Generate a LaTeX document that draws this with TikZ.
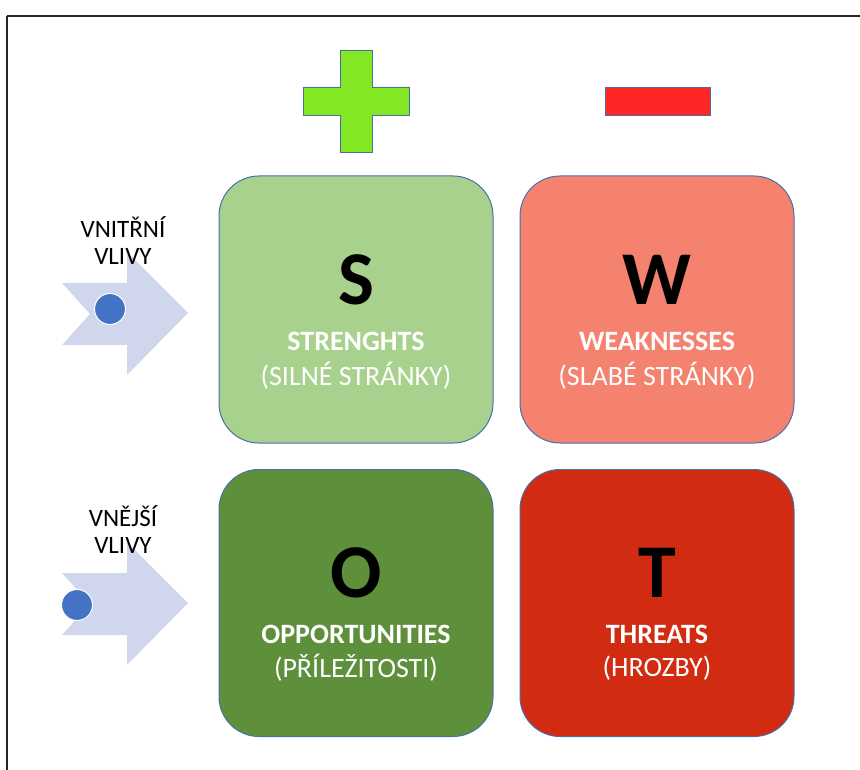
\documentclass[tikz,border=0pt]{standalone}
\usepackage{fontspec}
\setmainfont{Carlito}
\definecolor{sfill}{HTML}{A9D18E}
\definecolor{wfill}{HTML}{F4826F}
\definecolor{ofill}{HTML}{5E8F3B}
\definecolor{tfill}{HTML}{D12B12}
\definecolor{plusg}{HTML}{84E724}
\definecolor{minusr}{HTML}{FF2626}
\definecolor{edgeb}{HTML}{4A6FA8}
\definecolor{arrowf}{HTML}{D0D6EC}
\definecolor{dotb}{HTML}{4472C4}
\begin{document}
\begin{tikzpicture}[x=1pt,y=-1pt,
  quad/.style={draw=edgeb, line width=1pt, rounded corners=40pt, minimum width=274pt, minimum height=267pt, inner sep=0pt},
  bigletter/.style={font=\fontsize{76}{76}\selectfont\bfseries, text=black, inner sep=0pt},
  title/.style={font=\fontsize{28}{28}\selectfont\bfseries, text=white, inner sep=0pt},
  subtitle/.style={font=\fontsize{28}{28}\selectfont, text=white, inner sep=0pt},
  side/.style={font=\fontsize{25}{27}\selectfont, align=center, text=black, inner sep=0pt},
  sign/.style={draw=edgeb, line width=0.8pt},
  bigarrow/.style={fill=arrowf, draw=none},
  dot/.style={circle, fill=dotb, draw=white, line width=1pt, minimum size=31pt, inner sep=0pt}
]
\useasboundingbox (0,0) rectangle (860,770);
% frame
\draw[line width=2pt, black!85] (7,16) -- (860,16);
\draw[line width=1.5pt, black!85] (7,16) -- (7,770);

% plus and minus
\draw[sign, fill=plusg] (340,50) -- (372,50) -- (372,87) -- (409,87) -- (409,115) -- (372,115) -- (372,152) -- (340,152) -- (340,115) -- (303,115) -- (303,87) -- (340,87) -- cycle;
\draw[sign, fill=minusr] (605,87) rectangle (710,115);

% quadrants
\node[quad, fill=sfill] (S) at (356,309.5) {};
\node[quad, fill=wfill] (W) at (657,309.5) {};
\node[quad, fill=ofill] (O) at (356,603) {};
\node[quad, fill=tfill] (T) at (657,603) {};

\node[bigletter] (Sl) at (356,280) {S};
\node[title] (St) at (356,341) {STRENGHTS};
\node[subtitle] (Ss) at (356,376) {(SILNÉ STRÁNKY)};

\node[bigletter] (Wl) at (657,280) {W};
\node[title] (Wt) at (657,341) {WEAKNESSES};
\node[subtitle] (Ws) at (657,376) {(SLABÉ STRÁNKY)};

\node[bigletter] (Ol) at (356,573) {O};
\node[title] (Ot) at (356,634) {OPPORTUNITIES};
\node[subtitle] (Os) at (356,668) {(PŘÍLEŽITOSTI)};

\node[bigletter] (Tl) at (657,573) {T};
\node[title] (Tt) at (657,634) {THREATS};
\node[subtitle] (Ts) at (657,668) {(HROZBY)};

% side arrows
\fill[bigarrow] (62,283) -- (127,283) -- (127,252) -- (188,313) -- (127,375) -- (127,345) -- (62,345) -- (90,314) -- cycle;
\node[dot] (d1) at (110,309) {};
\node[side] (L1) at (123,241) {VNITŘNÍ\\VLIVY};

\fill[bigarrow] (62,573) -- (127,573) -- (127,542) -- (188,603) -- (127,665) -- (127,635) -- (62,635) -- (90,604) -- cycle;
\node[dot] (d2) at (77,605) {};
\node[side] (L2) at (123,530) {VNĚJŠÍ\\VLIVY};
\end{tikzpicture}
\end{document}
